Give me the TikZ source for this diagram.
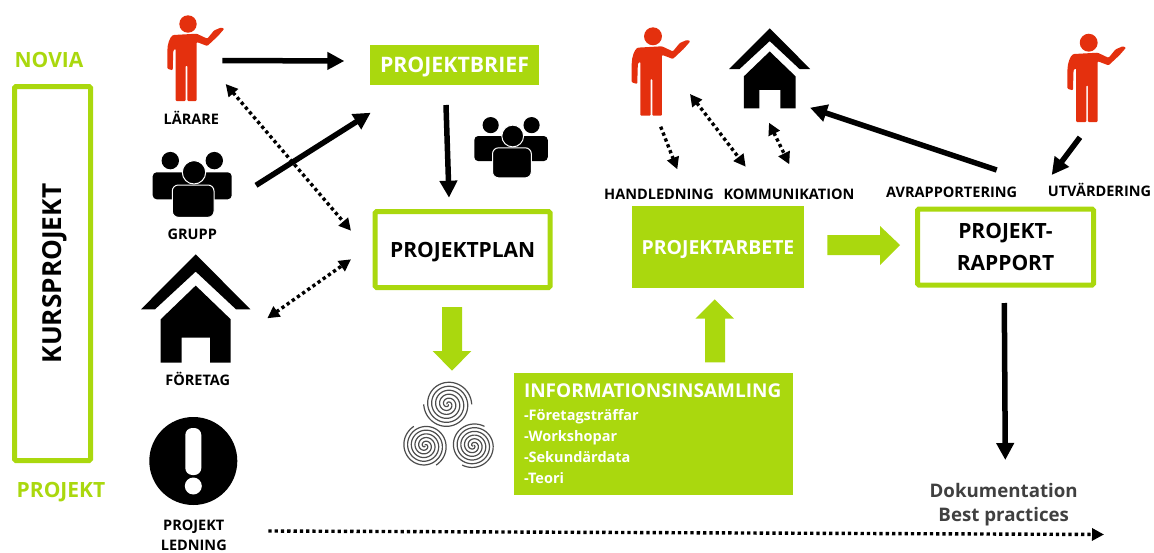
\documentclass[tikz,border=0pt]{standalone}
\usepackage{fontspec}
\setmainfont{Open Sans}
\usetikzlibrary{arrows.meta}
\definecolor{projgreen}{RGB}{170,216,14}
\definecolor{teachred}{RGB}{228,48,14}
\newcommand{\fsz}[1]{\bfseries\fontsize{#1}{#1}\selectfont}
\tikzset{
    lab/.style={font=\fsz{14.5}, inner sep=0pt, text height=10.4pt, text depth=0pt},
    greenbox/.style={draw=projgreen, line width=5pt, rounded corners=1.5pt, fill=white, font=\fsz{21}, inner sep=0pt, align=center},
    greenfill/.style={fill=projgreen, text=white, inner sep=0pt},
    solid arrow/.style={line width=5.5pt, -{Triangle[length=17pt,width=17pt]}},
    dot arrow/.style={line width=3.4pt, dash pattern=on 3.3pt off 3pt, {Triangle[length=12pt,width=12pt]}-{Triangle[length=12pt,width=12pt]}},
    dot single/.style={line width=3.4pt, dash pattern=on 3.3pt off 3pt, -{Triangle[length=12pt,width=12pt]}},
    teacher/.pic={
        \fill[teachred] (0,0) circle (8.7);
        \fill[teachred, rounded corners=1pt] (-14.7,11) .. controls (-18,13) and (-20.7,20) .. (-20.7,28)
            -- (-20.7,44.7) -- (-15.3,46.3) -- (-14.7,26.3) -- (-12.3,24.7) -- (-12.3,77) -- (-2.3,77)
            -- (-2.3,41.3) -- (-0.7,41.3) -- (-0.7,77) -- (8.7,77) -- (8.7,18) -- (19.3,22) -- (30,12)
            -- (36.3,4.7) -- (33,3.5) -- (26,6.5) -- (19.3,14.7) -- (8.7,9.7) -- cycle;
    },
    house/.pic={
        \fill (0,0) -- (54.7,55) -- (40.3,55) -- (0,17.3) -- (-40.7,55) -- (-54.7,55) -- cycle;
        \fill (0,31.3) -- (35,65) -- (35,108.3) -- (14.3,108.3) -- (14.3,83.3) -- (-14,83.3)
            -- (-14,108.3) -- (-35,108.3) -- (-35,65) -- cycle;
    },
    group/.pic={
        \fill (-23.7,-11.7) circle (8.7);
        \fill (20.3,-11.7) circle (8.7);
        \fill[rounded corners=4pt] (-41.3,27) -- (-41.3,0) -- (37.7,0) -- (37.7,27) -- cycle;
        \filldraw[draw=white, line width=1pt, rounded corners=6pt] (-21.7,45) -- (-21.7,12.7) -- (20,12.7) -- (20,45) -- cycle;
        \filldraw[draw=white, line width=1pt] (0,0) circle (11.7);
    },
    spiral/.pic={
        \foreach \a in {0,180}
            \draw[line width=1.2pt, black!70, rotate=\a] plot[domain=20:1080, samples=170, smooth] ({\x/1080*24*cos(\x)}, {\x/1080*24*sin(\x)});
    },
}
\begin{document}
\begin{tikzpicture}[x=1pt, y=-1pt]
    \useasboundingbox (0,0) rectangle (1154,552);

    % left column
    \node[text=projgreen, font=\fsz{21}, inner sep=0pt, text depth=0pt] (novia) at (49,59.5) {NOVIA};
    \node[greenbox, rotate=90, minimum width=374pt, minimum height=76pt, font=\fsz{26.2}, text depth=0pt] (kurs) at (52.5,273.5) {KURSPROJEKT};
    \node[text=projgreen, font=\fsz{21}, inner sep=0pt, text depth=0pt] (projekt) at (61,490) {PROJEKT};

    % actors
    \pic at (188,24) {teacher};
    \node[lab] (larare) at (191.3,119) {LÄRARE};
    \pic at (194,172.3) {group};
    \node[lab] (grupp) at (192.3,234.3) {GRUPP};
    \pic at (195.7,254.3) {house};
    \node[lab] (foretag) at (197.8,380.3) {FÖRETAG};
    \node[circle, fill=black, minimum size=88pt, inner sep=0pt] (alert) at (193.3,461) {};
    \node[rounded corners=7pt, fill=white, minimum width=16pt, minimum height=47pt, inner sep=0pt] (alertbar) at (193.3,451.5) {};
    \node[circle, fill=white, minimum size=17pt, inner sep=0pt] (alertdot) at (193.3,486) {};
    \node[lab] (ledning1) at (193.8,525) {PROJEKT};
    \node[lab] (ledning2) at (193.8,545) {LEDNING};

    % main boxes
    \node[greenfill, minimum width=169pt, minimum height=40pt, font=\fsz{21.3}, text depth=0pt] (brief) at (454.5,65) {PROJEKTBRIEF};
    \node[greenbox, minimum width=175pt, minimum height=76pt, text depth=0pt] (plan) at (462.7,249.5) {PROJEKTPLAN};
    \node[greenfill, minimum width=172pt, minimum height=82pt, font=\fsz{19.4}, text depth=0pt] (arbete) at (718,247) {PROJEKTARBETE};
    \node[greenbox, minimum width=176pt, minimum height=76pt] (rapport) at (1005.5,247) {PROJEKT-\\[11pt]RAPPORT};
    \node[greenfill, minimum width=279pt, minimum height=122pt, text width=259pt, align=left, font=\fsz{14.5}] (info) at (653.5,433.5)
        {{\fsz{19}INFORMATIONSINSAMLING}\\[8pt]-Företagsträffar\\[6.5pt]-Workshopar\\[6.5pt]-Sekundärdata\\[6.5pt]-Teori};

    \pic[scale=.93] at (512.7,136) {group};
    \pic[scale=1.03] at (653,36.3) {teacher};
    \pic[scale=.74] at (769.7,28.3) {house};
    \pic[scale=1.03] at (1088.7,42.7) {teacher};

    \pic at (447.7,404.3) {spiral};
    \pic[scale=.93, rotate=120] at (425,445.7) {spiral};
    \pic[scale=.93, rotate=240] at (473.3,445.7) {spiral};

    % labels
    \node[lab] (handledning) at (659,194.3) {HANDLEDNING};
    \node[lab] (kommunikation) at (789,194.3) {KOMMUNIKATION};
    \node[lab] (avrapp) at (951.7,192.7) {AVRAPPORTERING};
    \node[lab] (utvard) at (1099.5,191.7) {UTVÄRDERING};
    \node[font=\fsz{18.7}, text=black!75, inner sep=0pt] (dok) at (1003.7,490) {Dokumentation};
    \node[font=\fsz{18.7}, text=black!75, inner sep=0pt] (best) at (1003.7,517) {Best practices};

    % arrow ends
    \coordinate (larare out) at (222.3,60.5);
    \coordinate (brief in) at (344.3,61);
    \coordinate (grupp out) at (256,185.3);
    \coordinate (brief low) at (370.7,112.7);
    \coordinate (brief out) at (446,105);
    \coordinate (plan in) at (449,197.7);
    \coordinate (rapp out) at (996.7,170);
    \coordinate (house in) at (810,107.7);
    \coordinate (eval out) at (1080,137.3);
    \coordinate (eval in) at (1051.7,175);
    \coordinate (rapp low) at (1004.3,303);
    \coordinate (dok in) at (1005.3,460);
    \coordinate (larare low) at (225.7,84);
    \coordinate (plan a) at (351,230.7);
    \coordinate (foretag out) at (267.3,318.3);
    \coordinate (plan b) at (351,259.3);
    \coordinate (ledning out) at (268.3,531);
    \coordinate (time end) at (1104,534.5);
    \coordinate (teach a) at (660.7,126.7);
    \coordinate (handl in) at (677.3,169.3);
    \coordinate (teach b) at (690,94);
    \coordinate (komm a) at (745.7,166.7);
    \coordinate (house b) at (769,122.7);
    \coordinate (komm b) at (789.3,164.3);

    \draw[solid arrow] (larare out) -- (brief in);
    \draw[solid arrow] (grupp out) -- (brief low);
    \draw[solid arrow] (brief out) -- (plan in);
    \draw[solid arrow] (rapp out) -- (house in);
    \draw[solid arrow] (eval out) -- (eval in);
    \draw[solid arrow] (rapp low) -- (dok in);

    \draw[dot arrow] (larare low) -- (plan a);
    \draw[dot arrow] (foretag out) -- (plan b);
    \draw[dot arrow] (teach b) -- (komm a);
    \draw[dot arrow] (house b) -- (komm b);
    \draw[dot single] (teach a) -- (handl in);
    \draw[dot single] (ledning out) -- (time end);

    % block arrows
    \fill[projgreen] (442,307) -- (462,307) -- (462,351) -- (471.3,351) -- (452,370.7) -- (432.7,351) -- (442,351) -- cycle;
    \fill[projgreen] (705,362.3) -- (725,362.3) -- (725,318.7) -- (734,318.7) -- (714.7,299.3) -- (695.3,318.7) -- (705,318.7) -- cycle;
    \fill[projgreen] (827.3,235) -- (880,235) -- (880,226) -- (900,245) -- (880,265) -- (880,255) -- (827.3,255) -- cycle;
\end{tikzpicture}
\end{document}
